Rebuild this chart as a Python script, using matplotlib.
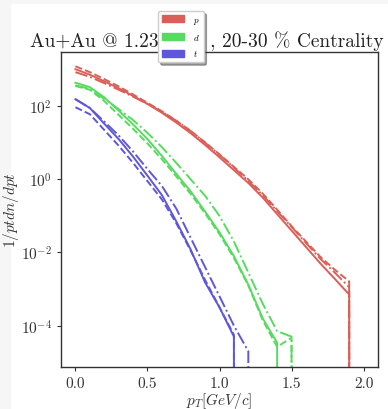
import numpy as np
import matplotlib
matplotlib.use("Agg")
import matplotlib.pyplot as plt
import matplotlib.patches as mpatches

# font setup (computer modern look)
plt.rcParams['font.family'] = ['cmr10', 'DejaVu Serif']
plt.rcParams['mathtext.fontset'] = 'cm'
plt.rcParams['axes.unicode_minus'] = False
plt.rcParams['axes.formatter.use_mathtext'] = True

# pT bins
pt = [0.0, 0.1, 0.2, 0.3, 0.4, 0.5, 0.6, 0.7, 0.8, 0.9, 1.0,
      1.1, 1.2, 1.3, 1.4, 1.5, 1.6, 1.7, 1.8, 1.9, 2.0]

# log10 of spectra (None -> 0, i.e. empty bin)
p_solid = [3.01, 2.86, 2.68, 2.49, 2.28, 2.06, 1.82, 1.55, 1.26, 0.94, 0.60,
           0.25, -0.10, -0.50, -0.95, -1.40, -1.85, -2.30, -2.72, -3.15, None]
p_dash = [3.09, 2.93, 2.74, 2.54, 2.32, 2.09, 1.86, 1.60, 1.32, 1.01, 0.68,
          0.34, 0.00, -0.39, -0.83, -1.28, -1.70, -2.12, -2.47, -2.79, None]
p_dashdot = [2.93, 2.80, 2.63, 2.45, 2.26, 2.06, 1.85, 1.60, 1.32, 1.00, 0.67,
             0.32, -0.04, -0.43, -0.87, -1.30, -1.74, -2.17, -2.55, -2.95, None]

d_solid = [2.64, 2.52, 2.24, 1.88, 1.50, 1.10, 0.64, 0.15, -0.33, -0.88, -1.45,
           -2.10, -2.88, -3.80, -4.47, None, None, None, None, None, None]
d_dash = [2.55, 2.45, 2.14, 1.76, 1.38, 0.98, 0.55, 0.08, -0.40, -0.93, -1.50,
          -2.15, -2.90, -3.85, -4.58, -4.33, None, None, None, None, None]
d_dashdot = [2.57, 2.47, 2.20, 1.92, 1.62, 1.27, 0.88, 0.45, 0.00, -0.45, -1.00,
             -1.70, -2.55, -3.40, -4.15, -4.30, None, None, None, None, None]

t_solid = [2.19, 1.95, 1.52, 1.10, 0.62, 0.10, -0.43, -1.15, -1.92, -2.82, -3.50,
           -4.30, None, None, None, None, None, None, None, None, None]
t_dash = [1.97, 1.78, 1.35, 0.92, 0.45, -0.05, -0.55, -1.20, -1.95, -2.75, -3.50,
          -4.25, None, None, None, None, None, None, None, None, None]
t_dashdot = [2.19, 1.95, 1.58, 1.20, 0.76, 0.28, -0.18, -0.80, -1.60, -2.40, -3.20,
             -4.00, -4.70, None, None, None, None, None, None, None, None]

labels = ['$p$', '$d$', '$t$']
colors = ['#db5f57', '#57db5f', '#5f57db']


def to_lin(vals):
    return np.array([0.0 if v is None else 10 ** v for v in vals])


fig = plt.figure(figsize=(3.88, 4.10), dpi=100)
# light gray screenshot border
fig.patches.append(mpatches.Rectangle((0, 0), 10 / 388, 1, transform=fig.transFigure,
                                      color='#f6f6f6', zorder=-10))
fig.patches.append(mpatches.Rectangle((0, 1 - 4 / 410), 1, 4 / 410, transform=fig.transFigure,
                                      color='#f6f6f6', zorder=-10))
ax = fig.add_axes([61 / 388, 1 - 368 / 410, 317 / 388, 315 / 410])

series = [(p_solid, p_dash, p_dashdot), (d_solid, d_dash, d_dashdot), (t_solid, t_dash, t_dashdot)]
for (s, d, dd), c in zip(series, colors):
    ax.plot(pt, to_lin(s), '-', color=c, lw=1.4)
    ax.plot(pt, to_lin(d), '--', color=c, lw=1.4)
    ax.plot(pt, to_lin(dd), '-.', color=c, lw=1.4)

ax.set_yscale('log')
ax.set_xlim(-0.1, 2.1)
ax.set_ylim(10 ** -5.13, 10 ** 3.48)
ax.set_yticks([1e-4, 1e-2, 1e0, 1e2])
ax.minorticks_off()
ax.set_xticks([0.0, 0.5, 1.0, 1.5, 2.0])
ax.set_xticklabels(['0.0', '0.5', '1.0', '1.5', '2.0'])
ax.tick_params(direction='out', length=3, width=0.8, colors='#333333', labelsize=11)
for sp in ax.spines.values():
    sp.set_color('#333333')
    sp.set_linewidth(1.0)

ax.set_title('Au+Au @ 1.23 GeV , 20-30 % Centrality', fontsize=14, color='#222222',
             pad=4, x=0.459)
ax.set_xlabel('$p_T[GeV/c]$', fontsize=11, color='#333333', labelpad=0)
ax.set_ylabel('$1/ptdn/dpt$', fontsize=11, color='#333333')
ax.yaxis.set_label_coords(-0.125, 0.5)

handles = [mpatches.Patch(color=c, label=l) for c, l in zip(colors, labels)]
fig.legend(handles=handles, loc='upper left', bbox_to_anchor=(158 / 388, 1 - 12 / 410),
           fontsize=6.5, shadow=True, fancybox=True, framealpha=1.0,
           handlelength=2.4, handleheight=0.8, handletextpad=1.0,
           borderpad=0.45, labelspacing=0.7, borderaxespad=0)

fig.savefig('out.png', dpi=100)
